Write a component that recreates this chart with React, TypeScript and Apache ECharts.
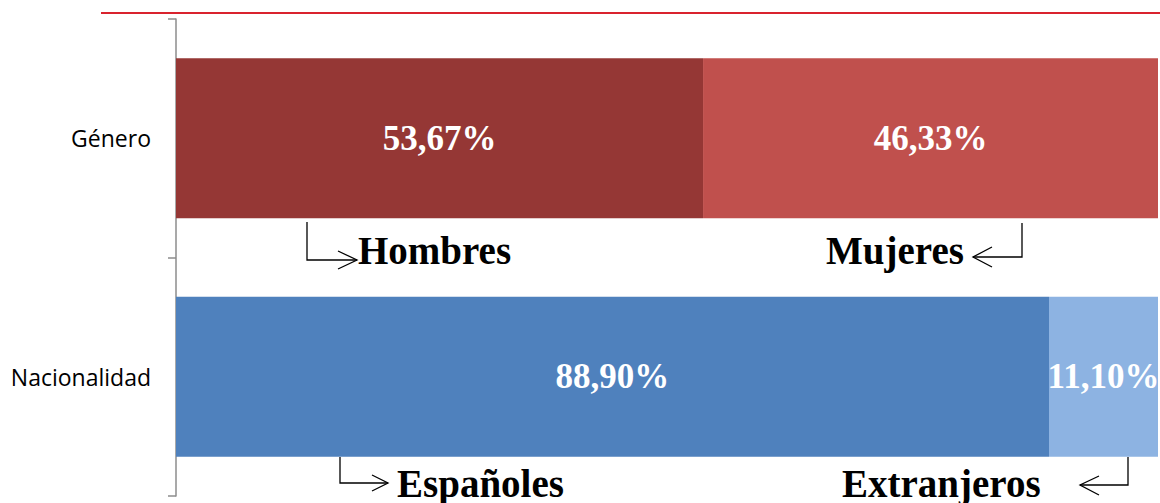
import React, { useEffect, useRef } from "react";
import * as echarts from "echarts";

const categories = ["Género", "Nacionalidad"];
const firstGroup = [53.67, 88.9];
const secondGroup = [46.33, 11.1];
const firstColors = ["#953735", "#4F81BD"];
const secondColors = ["#C0504D", "#8DB3E2"];

const fmt = (v: number) => v.toFixed(2).replace(".", ",") + "%";

export default function App() {
  const ref = useRef<HTMLDivElement>(null);
  useEffect(() => {
    document.body.style.margin = "0";
    const chart = echarts.init(ref.current!, null, { renderer: "svg" });
    const serif = "'Liberation Serif', 'Times New Roman', serif";
    const labelStyle = {
      show: true,
      position: "inside",
      color: "#ffffff",
      fontFamily: serif,
      fontWeight: "bold",
      fontSize: 35,
      formatter: (p: any) => fmt(p.value),
    };
    const annText = (text: string, x: number, y: number) => ({
      type: "text",
      x,
      y,
      style: {
        text,
        fill: "#000000",
        font: `bold 39px ${serif}`,
        align: "left",
        verticalAlign: "middle",
      },
    });
    const line = (pts: number[][]) => ({
      type: "polyline",
      shape: { points: pts },
      style: { stroke: "#000000", lineWidth: 1.3, fill: null },
    });
    chart.setOption({
      animation: false,
      grid: { left: 176, right: 2, top: 19, bottom: 7 },
      xAxis: {
        type: "value",
        min: 0,
        max: 100,
        show: false,
        splitLine: { show: false },
      },
      yAxis: {
        type: "category",
        data: categories,
        inverse: true,
        axisLine: { show: true, lineStyle: { color: "#8C8C8C", width: 1.5 } },
        axisTick: { show: true, length: 8, lineStyle: { color: "#8C8C8C", width: 1.5 } },
        axisLabel: {
          margin: 25,
          color: "#000000",
          fontFamily: "'Open Sans', 'Noto Sans', sans-serif",
          fontSize: 23,
        },
      },
      series: [
        {
          type: "bar",
          stack: "total",
          barCategoryGap: "33%",
          data: firstGroup.map((v, i) => ({ value: v, itemStyle: { color: firstColors[i] } })),
          label: labelStyle,
        },
        {
          type: "bar",
          stack: "total",
          barCategoryGap: "33%",
          data: secondGroup.map((v, i) => ({ value: v, itemStyle: { color: secondColors[i] } })),
          label: labelStyle,
        },
      ],
      graphic: [
        {
          type: "line",
          shape: { x1: 101, y1: 13, x2: 1160, y2: 13 },
          style: { stroke: "#D9232E", lineWidth: 2 },
        },
        line([[307, 222], [307, 260], [357, 260]]),
        line([[338, 251], [357, 260], [338, 269]]),
        annText("Hombres", 358, 250),
        line([[1022, 223], [1022, 257], [973, 257]]),
        line([[992, 247], [973, 257], [992, 267]]),
        annText("Mujeres", 826, 250),
        line([[340, 457], [340, 483], [388, 483]]),
        line([[372, 475], [388, 483], [372, 491]]),
        annText("Españoles", 397, 483),
        line([[1128, 457], [1128, 485], [1080, 485]]),
        line([[1099, 476], [1080, 485], [1099, 495]]),
        annText("Extranjeros", 842, 483),
      ],
    });
    return () => chart.dispose();
  }, []);
  return <div ref={ref} style={{ width: 1160, height: 503 }} />;
}
